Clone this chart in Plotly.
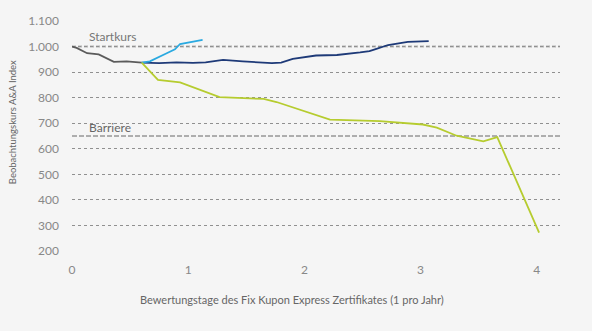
import plotly.graph_objects as go

# Data
gray_x = [0, 0.04, 0.13, 0.23, 0.36, 0.47, 0.6]
gray_y = [1000, 995, 974, 969, 940, 942, 937]

blue_x = [0.6, 0.67, 0.815, 0.886, 0.93, 0.987, 1.124]
blue_y = [937, 942, 974, 989, 1010, 1015, 1026]

navy_x = [0.6, 0.75, 0.9, 1.04, 1.15, 1.3, 1.47, 1.65, 1.72, 1.8, 1.9, 2.1, 2.28, 2.48, 2.56, 2.62, 2.72, 2.89, 3.07]
navy_y = [937, 935, 938, 936, 938, 948, 942, 939, 935, 937, 952, 965, 967, 977, 982, 991, 1006, 1018, 1021]

green_x = [0.6, 0.74, 0.93, 1.27, 1.65, 1.76, 2.22, 2.65, 3.02, 3.14, 3.31, 3.54, 3.66, 4.02]
green_y = [937, 870, 860, 802, 795, 783, 714, 708, 695, 683, 651, 629, 646, 272]

startkurs = 1000
barriere = 650
x_ticks = [0, 1, 2, 3, 4]
y_ticks = [200, 300, 400, 500, 600, 700, 800, 900, 1000, 1100]

FONT = "Lato"
fig = go.Figure()

fig.add_hline(y=startkurs, line=dict(color="#b5b5b5", width=2, dash="4px,2px"), layer="below")
fig.add_hline(y=barriere, line=dict(color="#666666", width=1, dash="5px,2px"), layer="below")

for xs, ys, col in [(gray_x, gray_y, "#5b5b5b"), (navy_x, navy_y, "#1e3a78"),
                    (blue_x, blue_y, "#2aa9e0"), (green_x, green_y, "#b6cc2f")]:
    fig.add_trace(go.Scatter(x=xs, y=ys, mode="lines", line=dict(color=col, width=1.8),
                             showlegend=False, hoverinfo="skip"))

fig.add_annotation(x=0.13, y=startkurs, text="Startkurs", showarrow=False, xanchor="left",
                   yanchor="bottom", yshift=1, font=dict(family=FONT, size=12, color="#777777"))
fig.add_annotation(x=0.13, y=barriere, text="Barriere", showarrow=False, xanchor="left",
                   yanchor="bottom", yshift=-1, font=dict(family=FONT, size=12, color="#666666"))
fig.add_annotation(xref="paper", yref="paper", x=0.451, y=-0.209, xanchor="center", yanchor="middle",
                   text="Bewertungstage des Fix Kupon Express Zertifikates (1 pro Jahr)", showarrow=False,
                   font=dict(family=FONT, size=11, color="#666666"))
fig.add_annotation(xref="paper", yref="paper", x=-0.123, y=0.56, xanchor="center", yanchor="middle",
                   text="Beobachtungskurs A&A Index", textangle=-90, showarrow=False,
                   font=dict(family=FONT, size=9.5, color="#666666"))

fig.update_layout(
    width=592, height=331,
    margin=dict(l=72, r=32, t=21, b=80),
    paper_bgcolor="#f5f5f5", plot_bgcolor="#f5f5f5",
    separators=",.",
    font=dict(family=FONT, size=12, color="#888888"),
    xaxis=dict(range=[0, 4.2], tickvals=x_ticks, showgrid=False, zeroline=False, showline=False,
               ticks="", ticklabelstandoff=10),
    yaxis=dict(range=[200, 1100], tickvals=y_ticks, separatethousands=True, tickformat=",d",
               showgrid=True, gridcolor="#909090", griddash="dot", gridwidth=1,
               zeroline=False, showline=False, ticks="", ticklabelstandoff=12),
)

fig.write_html("out.html")
